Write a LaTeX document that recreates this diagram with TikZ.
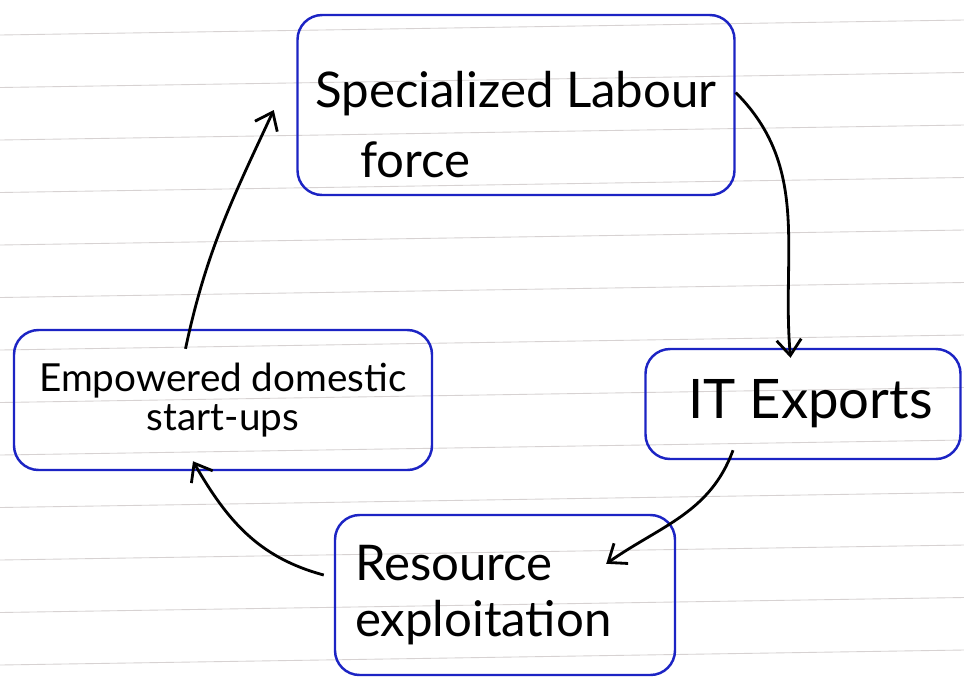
\documentclass[tikz,border=0pt]{standalone}
\usepackage{fontspec}
\setmainfont{Lato}
\usepackage{tikz}
\usetikzlibrary{arrows.meta,calc}
\definecolor{inkblue}{RGB}{28,36,196}
\definecolor{paperline}{RGB}{215,210,210}
\newcommand{\boxcolor}{inkblue}
\newcommand{\thickness}{1.4pt}
\newcommand{\arrowwidth}{1.6pt}
\tikzset{
  idea/.style={draw=\boxcolor, line width=\thickness, rounded corners=14pt, inner sep=6pt},
  flow/.style={draw=black, line width=\arrowwidth,
    -{Straight Barb[length=9pt,width=14pt,line width=\arrowwidth]}}
}

\begin{document}
\begin{tikzpicture}
\useasboundingbox (0, 0) rectangle (19.28, -13.64);
\fill[white] (0, 0) rectangle (19.28, -13.64);
% ruled paper
\foreach \y in {0.7, 1.75, 2.8, 3.85, 4.9, 5.95, 7.0, 8.05, 9.1, 10.15, 11.2, 12.25, 13.3}
  \draw[paperline, line width=0.5pt] (0, -\y) -- (19.28, -\y + 0.3);
% boxes
\node[idea, minimum width=8.74cm, minimum height=3.6cm, align=left,
  font=\fontsize{28}{40}\selectfont] (labour) at (10.32, -2.1) {\rule{0pt}{1.5cm}Specialized Labour\\\hspace*{0.9cm}force};
\node[idea, minimum width=6.3cm, minimum height=2.2cm, font=\fontsize{31}{36}\selectfont] (exports) at (16.06, -8.08) {\hspace*{0.3cm}IT Exports};
\node[idea, minimum width=6.8cm, minimum height=3.2cm, inner xsep=0.4cm, text width=6cm, align=left,
  font=\fontsize{28}{32}\selectfont] (resource) at (10.1, -11.9) {Resource\\ exploitation};
\node[idea, minimum width=8.36cm, minimum height=2.8cm, align=center,
  font=\fontsize{22}{22}\selectfont] (startups) at (4.46, -8.0) {Empowered domestic\\ start-ups};
% cycle
\draw[flow] ([yshift=0.25cm]labour.east) to[out=-45, in=95] ([xshift=-0.25cm,yshift=-0.2cm]exports.north);
\draw[flow] ([xshift=-1.4cm,yshift=0.2cm]exports.south) to[out=-110, in=35] ([xshift=-1.4cm,yshift=-1cm]resource.north east);
\draw[flow] ([xshift=-0.2cm,yshift=0.4cm]resource.west) to[out=165, in=-60] ([xshift=-0.6cm,yshift=0.2cm]startups.south);
\draw[flow] ([xshift=-0.75cm,yshift=-0.4cm]startups.north) to[out=78, in=-115] ([xshift=-0.45cm,yshift=-0.1cm]labour.west);
\end{tikzpicture}
\end{document}
